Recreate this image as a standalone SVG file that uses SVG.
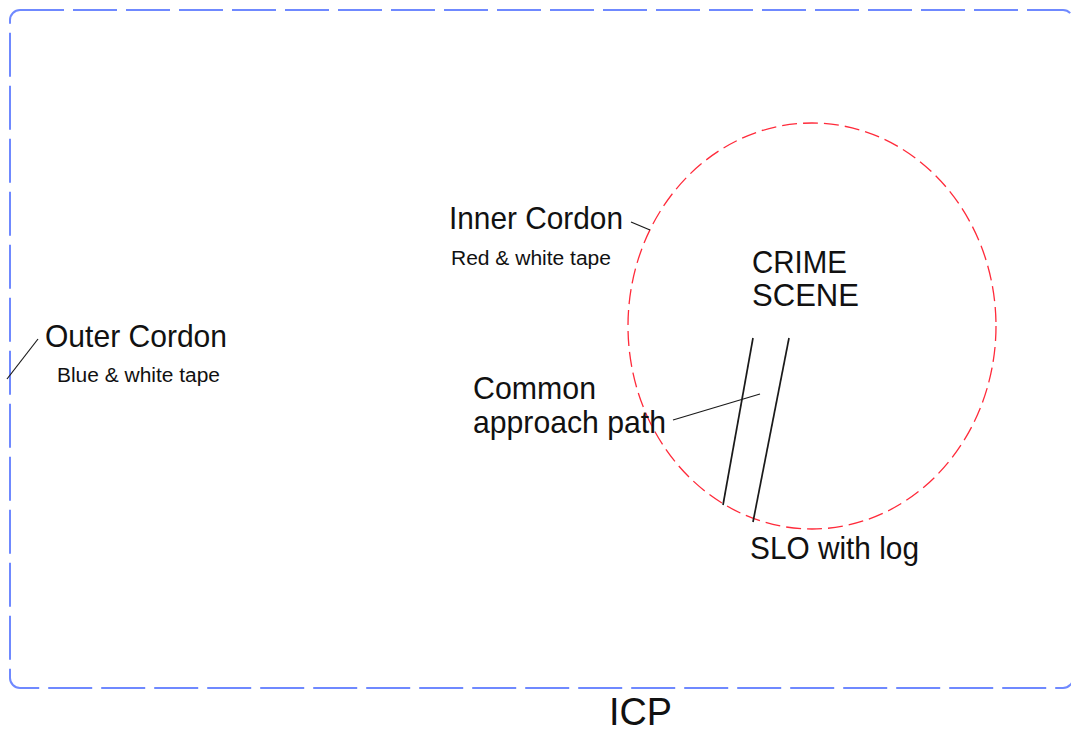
<svg xmlns="http://www.w3.org/2000/svg" width="1071" height="733" viewBox="0 0 1071 733">
<style>
.lbl{font-family:"Liberation Sans",Arial,sans-serif;fill:#111;}
.big{font-size:32px;}
.small{font-size:20px;}
.line{stroke:#1a1a1a;stroke-width:1.7;fill:none;}
.lead{stroke:#1a1a1a;stroke-width:1.2;fill:none;}
</style>
<rect width="1071" height="733" fill="#fff"/>
<g id="outer-cordon">
<rect x="10" y="10" width="1063" height="678" rx="10" fill="none" stroke="#6f89ff" stroke-width="2" stroke-dasharray="44,9"/>
<text class="lbl big" x="45" y="347" textLength="182" lengthAdjust="spacingAndGlyphs">Outer Cordon</text>
<text class="lbl small" x="57" y="382" textLength="163" lengthAdjust="spacingAndGlyphs">Blue &amp; white tape</text>
</g>
<g id="inner-cordon">
<ellipse cx="812" cy="326" rx="184" ry="203" fill="none" stroke="#ff2a3a" stroke-width="1.3" stroke-dasharray="15,6"/>
<text class="lbl big" x="449" y="229" textLength="174" lengthAdjust="spacingAndGlyphs">Inner Cordon</text>
<text class="lbl small" x="451" y="265" textLength="160" lengthAdjust="spacingAndGlyphs">Red &amp; white tape</text>
</g>
<g id="crime-scene">
<text class="lbl big" x="752" y="273" textLength="95" lengthAdjust="spacingAndGlyphs">CRIME</text>
<text class="lbl big" x="752" y="306" textLength="107" lengthAdjust="spacingAndGlyphs">SCENE</text>
</g>
<g id="common-approach-path">
<text class="lbl big" x="473" y="399" textLength="123" lengthAdjust="spacingAndGlyphs">Common</text>
<text class="lbl big" x="473" y="433" textLength="193" lengthAdjust="spacingAndGlyphs">approach path</text>
</g>
<g id="slo">
<text class="lbl big" x="750" y="559" textLength="169" lengthAdjust="spacingAndGlyphs">SLO with log</text>
</g>
<g id="icp">
<text class="lbl" style="font-size:39px" x="609" y="725" textLength="63" lengthAdjust="spacingAndGlyphs">ICP</text>
</g>
<g id="connectors">
<line class="line" x1="753" y1="338" x2="723" y2="505"/>
<line class="line" x1="789" y1="338" x2="753" y2="522"/>
<line class="lead" x1="673" y1="420" x2="760" y2="394"/>
<line class="lead" x1="631" y1="222" x2="650" y2="230"/>
<line class="lead" x1="7" y1="379" x2="38" y2="339"/>
</g>
</svg>
